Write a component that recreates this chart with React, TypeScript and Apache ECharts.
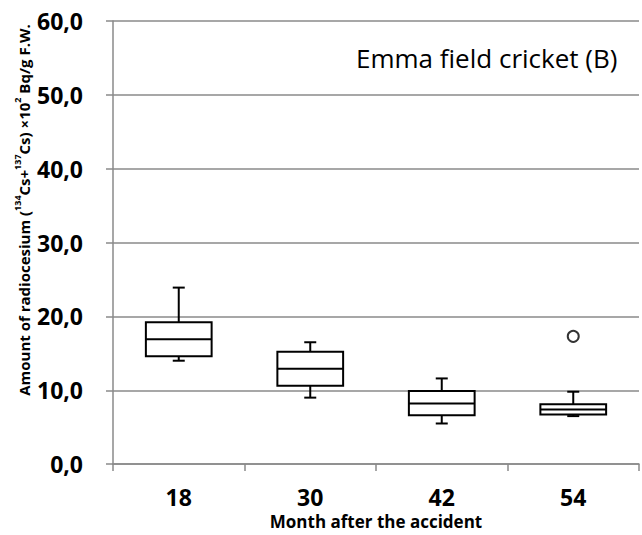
import React, { useEffect, useRef } from "react";
import * as echarts from "echarts";

const categories = ["18", "30", "42", "54"];
// [min, q1, median, q3, max]
const boxValues = [
  [14.0, 14.6, 16.9, 19.2, 23.9],
  [9.0, 10.6, 12.9, 15.2, 16.5],
  [5.5, 6.6, 8.2, 9.9, 11.6],
  [6.5, 6.7, 7.4, 8.1, 9.8],
];
const outliers = [["54", 17.3]];
const yTicks = { min: 0, max: 60, interval: 10 };
const chartTitle = "Emma field cricket (B)";
const xName = "Month after the accident";

const FONT = "'Open Sans', sans-serif";
const GRAY = "#8a8a8a";

export default function App() {
  const ref = useRef<HTMLDivElement>(null);
  useEffect(() => {
    if (!ref.current) return;
    const chart = echarts.init(ref.current, undefined, { renderer: "svg" });
    const customData = boxValues.map((v, i) => [i, ...v]);
    const outlierData = outliers.map(([c, v]) => [categories.indexOf(c as string), v]);
    chart.setOption({
      animation: false,
      backgroundColor: "#fff",
      textStyle: { fontFamily: FONT },
      grid: { left: 113, right: 3, top: 21, bottom: 67, containLabel: false },
      xAxis: {
        type: "category",
        data: categories,
        boundaryGap: true,
        axisLine: { show: true, lineStyle: { color: GRAY, width: 1.5 } },
        axisTick: { show: true, length: 7, lineStyle: { color: GRAY, width: 1.5 } },
        axisLabel: { color: "#000", fontSize: 23, fontWeight: "bold", fontFamily: FONT, margin: 21 },
        name: xName,
        nameLocation: "middle",
        nameGap: 46,
        nameTextStyle: { color: "#000", fontSize: 17, fontWeight: "bold", fontFamily: FONT },
        splitLine: { show: false },
      },
      yAxis: {
        type: "value",
        min: yTicks.min,
        max: yTicks.max,
        interval: yTicks.interval,
        axisLine: { show: true, lineStyle: { color: GRAY, width: 1.5 } },
        axisTick: { show: true, length: 7, lineStyle: { color: GRAY, width: 1.5 } },
        axisLabel: {
          color: "#000",
          fontSize: 23,
          fontWeight: "bold",
          fontFamily: FONT,
          margin: 30,
          formatter: (v: number) => v.toFixed(1).replace(".", ","),
        },
        splitLine: { show: true, lineStyle: { color: GRAY, width: 1.5 } },
      },
      graphic: [
        {
          type: "text",
          left: 356,
          top: 45,
          style: { text: chartTitle, fontSize: 26, fontFamily: FONT, fill: "#000" },
        },
        {
          type: "text",
          x: 24,
          y: 210,
          rotation: Math.PI / 2,
          style: {
            text: "Amount of radiocesium ({s|134}Cs+{s|137}Cs) ×10{s|2} Bq/g F.W.",
            fontSize: 15,
            fontWeight: "bold",
            fontFamily: FONT,
            fill: "#000",
            align: "center",
            verticalAlign: "middle",
            rich: {
              s: { fontSize: 9, fontWeight: "bold", fontFamily: FONT, verticalAlign: "top", lineHeight: 22 },
            },
          },
        },
      ],
      series: [
        {
          type: "custom",
          data: customData,
          encode: { x: 0, y: [1, 2, 3, 4, 5] },
          z: 5,
          renderItem: (params: any, api: any) => {
            const i = api.value(0);
            const pMin = api.coord([i, api.value(1)]);
            const pQ1 = api.coord([i, api.value(2)]);
            const pMed = api.coord([i, api.value(3)]);
            const pQ3 = api.coord([i, api.value(4)]);
            const pMax = api.coord([i, api.value(5)]);
            const bw = api.size([1, 0])[0];
            const half = bw * 0.25;
            const cap = 6;
            const cx = pMed[0];
            const style = { stroke: "#000", lineWidth: 2, fill: "none" };
            return {
              type: "group",
              children: [
                { type: "line", shape: { x1: cx, y1: pMax[1], x2: cx, y2: pQ3[1] }, style },
                { type: "line", shape: { x1: cx, y1: pQ1[1], x2: cx, y2: pMin[1] }, style },
                { type: "line", shape: { x1: cx - cap, y1: pMax[1], x2: cx + cap, y2: pMax[1] }, style },
                { type: "line", shape: { x1: cx - cap, y1: pMin[1], x2: cx + cap, y2: pMin[1] }, style },
                {
                  type: "rect",
                  shape: { x: cx - half, y: pQ3[1], width: half * 2, height: pQ1[1] - pQ3[1] },
                  style: { stroke: "#000", lineWidth: 2, fill: "#fff" },
                },
                { type: "line", shape: { x1: cx - half, y1: pMed[1], x2: cx + half, y2: pMed[1] }, style },
              ],
            };
          },
        },
        {
          type: "scatter",
          data: outlierData,
          symbol: "circle",
          symbolSize: 11,
          z: 6,
          itemStyle: { color: "#fff", borderColor: "#000", borderWidth: 2 },
        },
      ],
    });
    return () => chart.dispose();
  }, []);
  return <div ref={ref} style={{ position: "fixed", left: 0, top: 0, width: 642, height: 535 }} />;
}
